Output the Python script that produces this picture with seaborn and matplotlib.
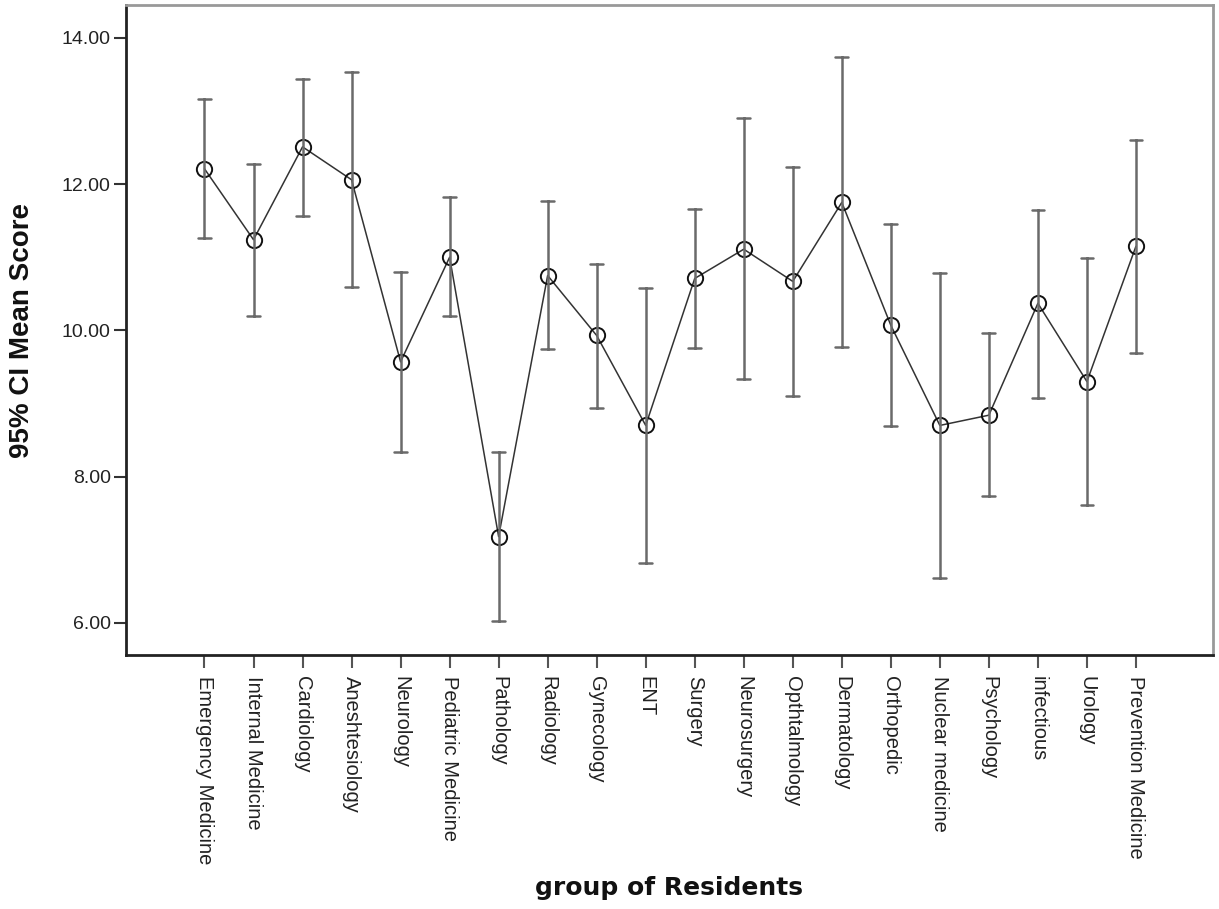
import numpy as np
import pandas as pd
import seaborn as sns
import matplotlib
matplotlib.use('Agg')
import matplotlib.pyplot as plt

groups = ['Emergency Medicine', 'Internal Medicine', 'Cardiology', 'Aneshtesiology',
          'Neurology', 'Pediatric Medicine', 'Pathology', 'Radiology', 'Gynecology',
          'ENT', 'Surgery', 'Neurosurgery', 'Opthtalmology', 'Dermatology',
          'Orthopedic', 'Nuclear medicine', 'Psychology', 'infectious', 'Urology',
          'Prevention Medicine']
mean_score = [12.21, 11.24, 12.51, 12.06, 9.57, 11.00, 7.18, 10.75, 9.93, 8.70,
              10.71, 11.11, 10.67, 11.75, 10.07, 8.70, 8.84, 10.37, 9.30, 11.15]
ci_low = [11.26, 10.20, 11.57, 10.59, 8.33, 10.19, 6.02, 9.74, 8.94, 6.82,
          9.76, 9.33, 9.10, 9.77, 8.69, 6.62, 7.73, 9.08, 7.61, 9.69]
ci_high = [13.16, 12.28, 13.44, 13.54, 10.80, 11.82, 8.33, 11.77, 10.91, 10.58,
           11.66, 12.90, 12.23, 13.74, 11.46, 10.78, 9.96, 11.65, 10.99, 12.60]

# three rows per group: median = mean, min/max = CI bounds
df = pd.DataFrame({
    'group': np.repeat(groups, 3),
    'score': np.column_stack([ci_low, mean_score, ci_high]).ravel(),
})

sns.set_style('ticks')
plt.rcParams['font.family'] = ['Liberation Sans', 'DejaVu Sans']

fig = plt.figure(figsize=(12.19, 9.09), dpi=100)
ax = fig.add_axes([0.1034, 0.2794, 0.8916, 0.7151])

sns.pointplot(data=df, x='group', y='score', order=groups,
              estimator='median', errorbar=('pi', 100), capsize=0.26,
              color='#333333', markers='o', markersize=11,
              markerfacecolor='none', markeredgecolor='#111111',
              markeredgewidth=1.4, linewidth=1.1,
              err_kws={'color': '#6a6a6a', 'linewidth': 1.8}, ax=ax)

ax.set_xlim(-1.6, 20.57)
ax.set_ylim(5.56, 14.45)
ax.set_yticks([6, 8, 10, 12, 14])
ax.set_yticklabels([f'{v:.2f}' for v in [6, 8, 10, 12, 14]])

for side in ['left', 'bottom']:
    ax.spines[side].set_color('#222222')
    ax.spines[side].set_linewidth(2)
for side in ['top', 'right']:
    ax.spines[side].set_visible(True)
    ax.spines[side].set_color('#999999')
    ax.spines[side].set_linewidth(2)

ax.tick_params(axis='y', length=9, width=1.5, color='#333333', pad=2,
               labelsize=14, labelcolor='#222222')
ax.tick_params(axis='x', length=9, width=1.5, color='#555555', pad=6,
               labelsize=14.5, labelcolor='#222222')
plt.setp(ax.get_xticklabels(), rotation=270, ha='center', va='top')

ax.set_xlabel('group of Residents', fontsize=18, fontweight='bold',
              family='DejaVu Sans', color='#111111')
ax.xaxis.set_label_coords(0.5, -0.34)
ax.set_ylabel('95% CI Mean Score', fontsize=20, fontweight='bold', color='#111111')
ax.yaxis.set_label_coords(-0.084, 0.5)

fig.savefig('out.png', dpi=100)
